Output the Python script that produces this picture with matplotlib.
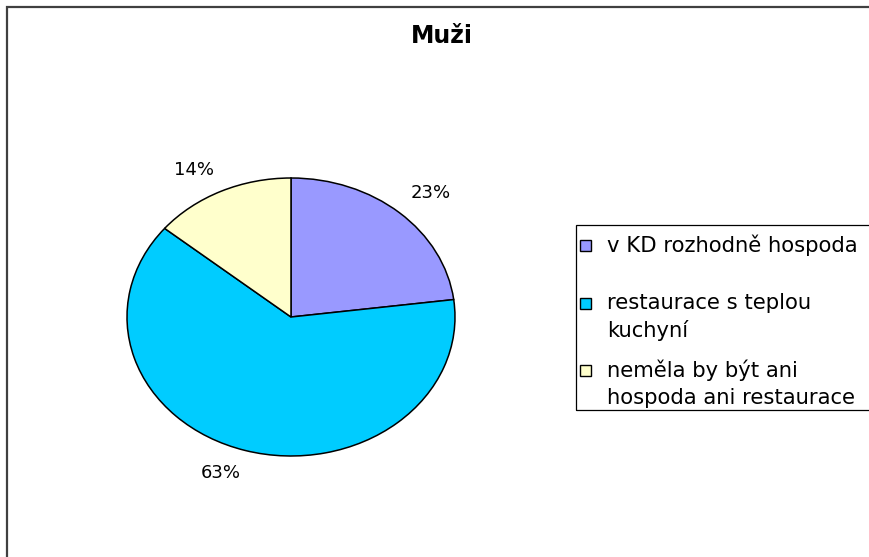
"""
Pie chart: Muži
"""

import matplotlib.pyplot as plt
import numpy as np
from matplotlib.patches import Rectangle

title = "Muži"
labels = [
    "v KD rozhodně hospoda",
    "restaurace s teplou\nkuchyní",
    "neměla by být ani\nhospoda ani restaurace",
]
shares = [23, 63, 14]
colors = ["#9999FF", "#00CCFF", "#FFFFCC"]

W, H = 869, 557
plt.rcParams["font.family"] = ["DejaVu Sans"]
fig = plt.figure(figsize=(W / 100, H / 100), dpi=100)


def fx(x):
    return x / W


def fy(y):
    # pixel row from the top -> figure fraction
    return 1 - y / H


# chart area border, runs past the right and bottom edge
fig.patches.append(
    Rectangle((fx(7), fy(620)), fx(950 - 7), (620 - 7) / H,
              transform=fig.transFigure, fill=False,
              edgecolor="#404040", lw=1.6)
)

fig.text(fx(442), fy(43), title, ha="center", va="baseline",
         fontsize=17, fontweight="bold")

# pie, stretched into an ellipse
ax = fig.add_axes([fx(127), fy(456), fx(328), (456 - 178) / H])
wedges, _ = ax.pie(shares, colors=colors, startangle=90, counterclock=False,
                   wedgeprops=dict(edgecolor="black", linewidth=1.1))
ax.set_aspect("auto")
ax.set_xlim(-1, 1)
ax.set_ylim(-1, 1)
ax.axis("off")

for w, v in zip(wedges, shares):
    ang = np.deg2rad((w.theta1 + w.theta2) / 2)
    c, s = np.cos(ang), np.sin(ang)
    ha = "left" if c > 0.2 else ("right" if c < -0.2 else "center")
    va = "bottom" if s > 0.2 else ("top" if s < -0.2 else "center")
    ax.text(1.1 * c, 1.1 * s, f"{v}%", ha=ha, va=va, fontsize=13)

# legend box
fig.patches.append(
    Rectangle((fx(576), fy(410)), fx(950 - 576), (410 - 225) / H,
              transform=fig.transFigure, fill=False,
              edgecolor="black", lw=0.9)
)
first_baselines = [252, 310, 377]
pitch = 27
for lab, col, b in zip(labels, colors, first_baselines):
    fig.patches.append(
        Rectangle((fx(580), fy(b - 1)), fx(11), 11 / H,
                  transform=fig.transFigure, facecolor=col,
                  edgecolor="black", lw=1.0)
    )
    # va="baseline" anchors the last line, so shift by the extra lines
    last = b + pitch * lab.count("\n")
    fig.text(fx(607), fy(last), lab, ha="left", va="baseline",
             fontsize=15.2, linespacing=1.42)

fig.savefig("out.png", dpi=100)
